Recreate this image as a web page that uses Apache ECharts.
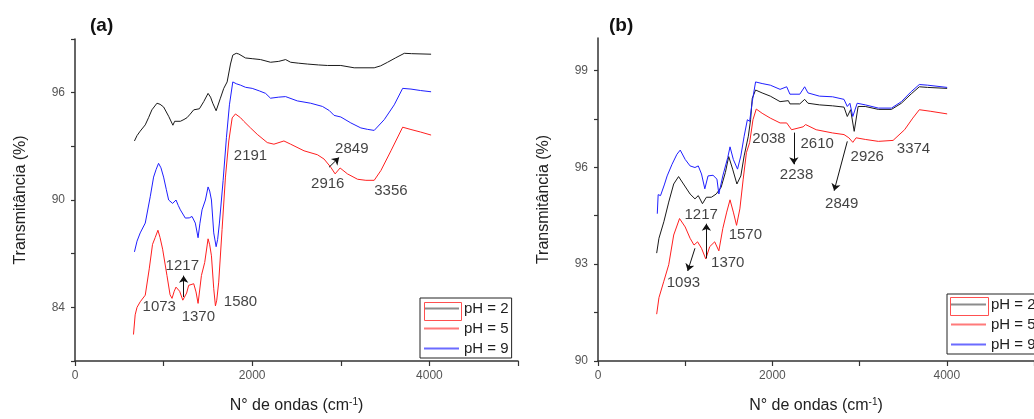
<!DOCTYPE html>
<html>
<head>
<meta charset="utf-8">
<style>
  html, body { margin: 0; padding: 0; background: #fff; }
  #chart { width: 1034px; height: 419px; }
</style>
<script src="https://cdn.jsdelivr.net/npm/echarts@6/dist/echarts.min.js"></script>
</head>
<body>
<div id="chart"></div>
<script>
// FTIR spectra: wavenumber (cm-1) vs transmittance (%)
const seriesNames = ['pH = 2', 'pH = 5', 'pH = 9'];

// Panel (a)
const specA_pH2 = [[671,93.3],[700,93.6],[736,93.85],[793,94.2],[830,94.6],[868,95.04],[925,95.41],[960,95.35],[1000,95.2],[1057,94.68],[1105,94.18],[1125,94.4],[1140,94.5],[1189,94.4],[1230,94.5],[1264,94.6],[1300,94.8],[1340,95.04],[1404,95.1],[1453,95.5],[1502,95.96],[1530,95.75],[1555,95.41],[1593,94.99],[1641,95.69],[1679,96.24],[1717,96.6],[1755,97.6],[1781,98.1],[1820,98.2],[1849,98.16],[1924,97.94],[2000,97.9],[2094,97.85],[2207,97.7],[2300,97.75],[2377,97.85],[2434,97.7],[2520,97.65],[2622,97.6],[2749,97.55],[2849,97.52],[3000,97.52],[3151,97.39],[3377,97.39],[3450,97.5],[3528,97.7],[3620,97.95],[3717,98.2],[3800,98.18],[4019,98.15]];
const specA_pH5 = [[660,82.48],[679,83.58],[700,84.0],[736,84.31],[793,84.68],[838,86.15],[875,87.52],[905,87.9],[936,88.31],[960,87.9],[989,87.25],[1038,85.78],[1073,84.7],[1095,84.5],[1120,84.9],[1140,85.13],[1181,84.9],[1217,84.4],[1234,84.31],[1260,84.8],[1283,85.23],[1340,85.32],[1366,84.86],[1389,84.22],[1427,85.78],[1464,86.51],[1502,87.83],[1520,87.5],[1540,86.88],[1566,85.04],[1585,84.08],[1600,84.4],[1622,85.41],[1660,88.35],[1698,91.28],[1736,93.3],[1774,94.59],[1811,94.81],[1868,94.6],[1905,94.4],[1981,94.03],[2057,93.67],[2170,93.21],[2245,93.12],[2358,93.3],[2434,93.12],[2585,92.75],[2736,92.53],[2811,92.29],[2887,91.83],[2936,91.46],[2992,91.79],[3075,91.46],[3189,91.16],[3283,91.1],[3377,91.1],[3453,91.65],[3566,92.75],[3698,94.07],[3792,93.94],[3900,93.8],[4019,93.63]];
const specA_pH9 = [[671,87.1],[700,87.7],[736,88.16],[793,88.71],[849,90.18],[887,91.28],[915,91.7],[943,92.05],[970,91.8],[1000,91.28],[1030,90.6],[1057,90.0],[1102,89.81],[1140,90.0],[1165,89.7],[1189,89.45],[1245,88.99],[1290,89.0],[1321,89.08],[1358,88.71],[1389,87.89],[1410,88.7],[1434,89.45],[1472,90.0],[1502,90.73],[1520,90.5],[1540,90.0],[1566,88.16],[1593,87.39],[1610,87.8],[1630,88.71],[1672,91.1],[1709,93.48],[1743,95.32],[1781,96.6],[1820,96.5],[1868,96.42],[1925,96.3],[2000,96.24],[2080,96.1],[2151,95.96],[2207,95.69],[2300,95.75],[2377,95.78],[2509,95.54],[2660,95.41],[2793,95.23],[2870,95.0],[2924,94.73],[3000,94.64],[3113,94.31],[3226,94.03],[3300,93.95],[3377,93.89],[3490,94.49],[3603,95.32],[3698,96.24],[3792,96.2],[3900,96.12],[4019,96.05]];

// Panel (b)
const specB_pH2 = [[673,93.34],[699,93.8],[755,94.31],[811,94.92],[868,95.48],[924,95.71],[980,95.48],[1056,95.17],[1112,95.02],[1150,95.12],[1198,94.87],[1243,95.07],[1300,95.07],[1356,95.17],[1412,95.38],[1461,95.84],[1499,96.33],[1544,95.94],[1593,95.48],[1638,95.73],[1676,96.35],[1724,96.96],[1750,97.47],[1769,98.13],[1807,98.39],[1882,98.3],[1976,98.2],[2088,98.03],[2183,98.06],[2201,97.96],[2314,97.96],[2370,98.1],[2408,97.98],[2539,97.93],[2690,97.9],[2821,97.86],[2859,97.57],[2897,97.78],[2938,97.11],[2983,97.88],[3065,97.88],[3215,97.79],[3366,97.79],[3479,97.98],[3592,98.27],[3685,98.49],[3779,98.47],[4004,98.44]];
const specB_pH5 = [[673,91.45],[699,91.96],[755,92.47],[811,92.98],[868,93.9],[935,94.41],[1000,94.15],[1056,93.8],[1101,93.59],[1142,93.69],[1187,93.49],[1236,93.16],[1281,93.54],[1338,93.69],[1386,93.41],[1431,94.1],[1476,94.61],[1514,94.99],[1552,94.61],[1589,94.2],[1627,94.71],[1665,95.63],[1702,96.45],[1739,96.76],[1777,97.47],[1815,97.8],[1882,97.67],[1976,97.52],[2088,97.37],[2164,97.37],[2220,97.16],[2352,97.25],[2381,97.32],[2502,97.16],[2690,97.06],[2821,97.01],[2877,96.91],[2922,96.77],[2960,96.91],[3065,96.86],[3215,96.8],[3384,96.83],[3516,97.16],[3610,97.52],[3685,97.78],[3817,97.73],[4004,97.65]];
const specB_pH9 = [[680,94.56],[690,95.15],[717,95.12],[760,95.45],[793,95.73],[849,96.09],[905,96.4],[943,96.53],[1000,96.24],[1056,96.04],[1112,95.99],[1150,96.04],[1187,95.79],[1225,95.33],[1262,95.73],[1319,95.75],[1364,95.63],[1386,95.17],[1431,95.73],[1488,96.3],[1514,96.63],[1552,96.24],[1600,95.94],[1638,96.35],[1676,96.96],[1713,97.47],[1739,97.42],[1769,98.03],[1807,98.64],[1882,98.59],[1976,98.54],[2088,98.41],[2164,98.49],[2201,98.26],[2314,98.26],[2370,98.49],[2408,98.3],[2539,98.2],[2690,98.18],[2821,98.1],[2859,97.88],[2889,97.98],[2922,97.57],[2972,97.98],[3065,97.93],[3215,97.83],[3366,97.83],[3479,98.03],[3592,98.34],[3685,98.56],[3779,98.54],[4004,98.47]];

// Band labels: [wavenumber, transmittance, text]
const bandLabelsA = [[1981,92.49,'2191'],[3124,92.88,'2849'],[2853,90.9,'2916'],[3566,90.51,'3356'],[1211,86.33,'1217'],[951,84.02,'1073'],[1392,83.47,'1370'],[1868,84.29,'1580']];
const bandLabelsB = [[1961,96.89,'2038'],[2513,96.73,'2610'],[2277,95.75,'2238'],[3088,96.31,'2926'],[3618,96.58,'3374'],[2795,94.87,'2849'],[1183,94.53,'1217'],[1690,93.89,'1570'],[1488,93.03,'1370'],[980,92.42,'1093']];
// Pointer arrows: [x1, y1, x2, y2] (head at the second point)
const arrowsA = [[1226,84.58,1226,85.77],[2867,91.83,2981,92.38]];
const arrowsB = [[2246,97.07,2246,96.09],[2859,96.8,2708,95.27],[1243,93.18,1243,94.25],[1112,93.49,1029,92.79]];

// Axis ticks and labels
const xLabelValues = [0, 2000, 4000];
const yA_labels = [84, 90, 96], yA_ticks = [81, 84, 87, 90, 93, 96, 99];
const yB_labels = [90, 93, 96, 99], yB_ticks = [90, 91.5, 93, 94.5, 96, 97.5, 99];

const FONT = '"Liberation Sans", Arial, sans-serif';
const AXIS_COLOR = '#333';
const colors = { 'pH = 2': '#1a1a1a', 'pH = 5': '#ff1f1f', 'pH = 9': '#1f1fff' };
const legendLine = { 'pH = 2': '#8c8c8c', 'pH = 5': '#ff7a7a', 'pH = 9': '#6b6bff' };

const chart = echarts.init(document.getElementById('chart'), null, { renderer: 'canvas' });

function xAxisDef(gi) {
  return {
    type: 'value', gridIndex: gi, position: 'bottom', min: 0, max: 5000, interval: 1000,
    axisLine: { show: true, onZero: false, lineStyle: { color: AXIS_COLOR, width: 1.5 } },
    axisTick: { show: true, length: 5, lineStyle: { color: AXIS_COLOR, width: 1.2 } },
    axisLabel: { customValues: xLabelValues, formatter: v => String(v), fontFamily: FONT, fontSize: 12, color: '#555', margin: 9 },
    splitLine: { show: false },
    name: 'N° de ondas (cm{sup|-1})', nameLocation: 'middle', nameGap: 36,
    nameTextStyle: { fontFamily: FONT, fontSize: 16, color: '#222',
      rich: { sup: { fontFamily: FONT, fontSize: 10, color: '#222', padding: [0, 0, 8, 0] } } }
  };
}
function yAxisDef(gi, min, max, labels, ticks) {
  return {
    type: 'value', gridIndex: gi, position: 'left', min: min, max: max,
    axisLine: { show: true, onZero: false, lineStyle: { color: AXIS_COLOR, width: 1.5 } },
    axisTick: { show: true, customValues: ticks, length: 4, lineStyle: { color: AXIS_COLOR, width: 1.2 } },
    axisLabel: { customValues: labels, formatter: v => String(v), fontFamily: FONT, fontSize: 12, color: '#555', margin: 10 },
    splitLine: { show: false },
    name: 'Transmitância (%)', nameLocation: 'middle', nameGap: 46, nameRotate: 90,
    nameTextStyle: { fontFamily: FONT, fontSize: 16, color: '#222' }
  };
}
function spectrum(name, data, gi) {
  return {
    type: 'line', name: name, data: data, xAxisIndex: gi, yAxisIndex: gi,
    symbol: 'none', showSymbol: false, smooth: false,
    lineStyle: { color: colors[name], width: 1 }, itemStyle: { color: colors[name] },
    z: 2
  };
}
function bandLabels(rows, gi) {
  return {
    type: 'scatter', name: 'bands' + gi, xAxisIndex: gi, yAxisIndex: gi,
    data: rows.map(r => ({ name: r[2], value: [r[0], r[1]] })),
    symbolSize: 1, itemStyle: { color: 'rgba(0,0,0,0)' }, silent: true, z: 5,
    label: { show: true, position: 'inside', formatter: '{b}', fontFamily: FONT, fontSize: 15,
      color: '#111', textBorderWidth: 0, textShadowBlur: 0 }
  };
}
function arrows(rows, gi) {
  return {
    type: 'lines', name: 'arrows' + gi, coordinateSystem: 'cartesian2d', xAxisIndex: gi, yAxisIndex: gi,
    data: rows.map(r => ({ coords: [[r[0], r[1]], [r[2], r[3]]] })),
    symbol: ['none', 'arrow'], symbolSize: [0, 7], silent: true, z: 5,
    lineStyle: { color: '#111', width: 1, opacity: 1, curveness: 0 }
  };
}
function legendDef(left, top) {
  return {
    left: left, top: top, orient: 'vertical', padding: [2, 3, 1, 3], itemGap: 3,
    itemWidth: 35, itemHeight: 14, borderColor: '#222', borderWidth: 1,
    backgroundColor: '#fff', selectedMode: false,
    itemStyle: { opacity: 0 },
    textStyle: { fontFamily: FONT, fontSize: 15, color: '#1e1e1e', lineHeight: 17 },
    data: seriesNames.map(n => ({ name: n, itemStyle: { opacity: 0 }, lineStyle: { color: legendLine[n], width: 2 } }))
  };
}

const option = {
  animation: false,
  backgroundColor: '#fff',
  title: [
    { text: '(a)', left: 90, top: 16, padding: 0, textStyle: { fontFamily: FONT, fontSize: 19, fontWeight: 'bold', color: '#111' } },
    { text: '(b)', left: 609, top: 16, padding: 0, textStyle: { fontFamily: FONT, fontSize: 19, fontWeight: 'bold', color: '#111' } }
  ],
  grid: [
    { left: 75, top: 39, width: 443, height: 328 },
    { left: 598, top: 38, width: 444, height: 326 }
  ],
  xAxis: [xAxisDef(0), xAxisDef(1)],
  yAxis: [
    yAxisDef(0, 81, 99, yA_labels, yA_ticks),
    yAxisDef(1, 90, 100, yB_labels, yB_ticks)
  ],
  legend: [legendDef(420, 298), legendDef(947, 294)],
  series: [
    spectrum('pH = 2', specA_pH2, 0),
    spectrum('pH = 5', specA_pH5, 0),
    spectrum('pH = 9', specA_pH9, 0),
    spectrum('pH = 2', specB_pH2, 1),
    spectrum('pH = 5', specB_pH5, 1),
    spectrum('pH = 9', specB_pH9, 1),
    bandLabels(bandLabelsA, 0), arrows(arrowsA, 0),
    bandLabels(bandLabelsB, 1), arrows(arrowsB, 1)
  ],
  // red frame drawn around the pH = 2 legend sample
  graphic: [
    { type: 'rect', left: 422, top: 300, z: 100, shape: { width: 37, height: 18 }, style: { fill: 'none', stroke: '#ff5050', lineWidth: 1 } },
    { type: 'rect', left: 948, top: 295, z: 100, shape: { width: 38, height: 18 }, style: { fill: 'none', stroke: '#ff5050', lineWidth: 1 } }
  ]
};
chart.setOption(option);
</script>
</body>
</html>
